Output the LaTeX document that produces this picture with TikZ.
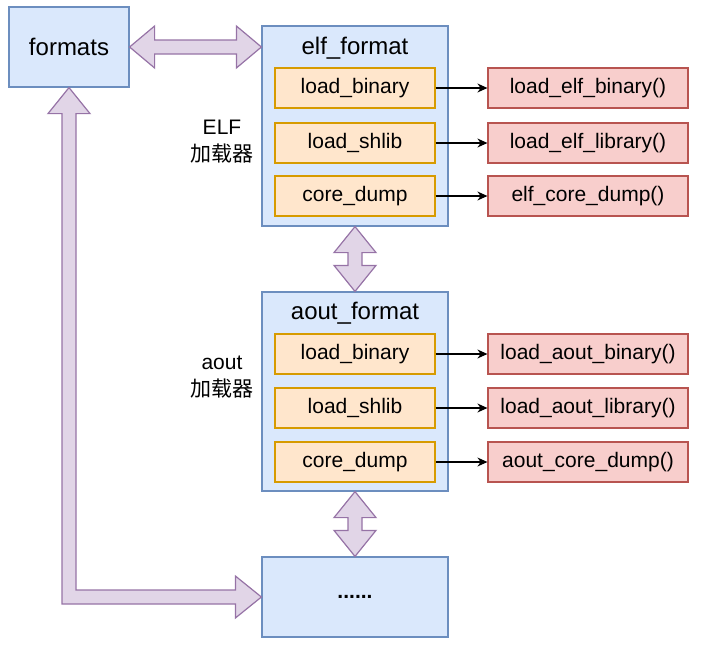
\documentclass[tikz,border=0pt]{standalone}
\usepackage{fontspec}
\setmainfont{Liberation Sans}
\newfontfamily\cjk{Noto Sans CJK SC}
\usetikzlibrary{arrows.meta,calc}

\definecolor{bluefill}{HTML}{DAE8FC}
\definecolor{blueline}{HTML}{6C8EBF}
\definecolor{orangefill}{HTML}{FFE6CC}
\definecolor{orangeline}{HTML}{D79B00}
\definecolor{redfill}{HTML}{F8CECC}
\definecolor{redline}{HTML}{B85450}
\definecolor{purplefill}{HTML}{E1D5E7}
\definecolor{purpleline}{HTML}{9673A6}

\begin{document}
\begin{tikzpicture}[x=1pt,y=-1pt,
	box/.style={draw=blueline,fill=bluefill,line width=1.2pt,inner sep=0pt,minimum width=186pt},
	op/.style={draw=orangeline,fill=orangefill,line width=1.2pt,inner sep=0pt,minimum width=160pt,minimum height=40pt,font=\fontsize{21}{25}\selectfont},
	fn/.style={draw=redline,fill=redfill,line width=1.2pt,inner sep=0pt,minimum width=200pt,minimum height=40pt,font=\fontsize{21}{25}\selectfont},
	head/.style={font=\fontsize{24}{28}\selectfont},
	side/.style={align=center,font=\fontsize{21}{27}\selectfont},
	fat/.style={draw=purpleline,fill=purplefill,line width=1.2pt,line join=miter},
	call/.style={-{Stealth[length=10pt,width=9pt]},line width=1.2pt}]
	\useasboundingbox (0,0) rectangle (702,649);

	\node[box,minimum width=120pt,minimum height=80pt,head] (formats) at (69,47) {formats};

	% elf loader
	\node[box,minimum height=200pt] (elf) at (355,126) {};
	\node[head] (elfname) at (355,48) {elf\_format};
	\node[op] (elfbin) at (355,88) {load\_binary};
	\node[op] (elflib) at (355,143) {load\_shlib};
	\node[op] (elfcore) at (355,196) {core\_dump};
	\node[fn] (elfbinfn) at (588,88) {load\_elf\_binary()};
	\node[fn] (elflibfn) at (588,143) {load\_elf\_library()};
	\node[fn] (elfcorefn) at (588,196) {elf\_core\_dump()};
	\node[side] (elflabel) at (222,142) {ELF\\{\cjk 加载器}};

	% aout loader
	\node[box,minimum height=199pt] (aout) at (355,391.5) {};
	\node[head] (aoutname) at (355,313) {aout\_format};
	\node[op] (aoutbin) at (355,354) {load\_binary};
	\node[op] (aoutlib) at (355,408) {load\_shlib};
	\node[op] (aoutcore) at (355,462) {core\_dump};
	\node[fn] (aoutbinfn) at (588,354) {load\_aout\_binary()};
	\node[fn] (aoutlibfn) at (588,408) {load\_aout\_library()};
	\node[fn] (aoutcorefn) at (588,462) {aout\_core\_dump()};
	\node[side] (aoutlabel) at (222,377) {aout\\{\cjk 加载器}};

	\node[box,minimum height=80pt,font=\fontsize{21}{25}\selectfont\bfseries] (more) at (355,597) {......};

	\draw[call] (elfbin) -- (elfbinfn);
	\draw[call] (elflib) -- (elflibfn);
	\draw[call] (elfcore) -- (elfcorefn);
	\draw[call] (aoutbin) -- (aoutbinfn);
	\draw[call] (aoutlib) -- (aoutlibfn);
	\draw[call] (aoutcore) -- (aoutcorefn);

	% wide arrows
	\coordinate (elfin) at (formats.east -| elf.west);
	\coordinate (bend) at (formats.south |- more.west);
	\draw[fat] (formats.east) -- ++(25,-21) -- ++(0,14) -- ($(elfin)+(-25,-7)$) -- ++(0,-14) -- (elfin)
		-- ++(-25,21) -- ++(0,-14) -- ($(formats.east)+(25,7)$) -- ++(0,14) -- cycle;
	\draw[fat] (elf.south) -- ++(21,26) -- ++(-14,0) -- ($(aout.north)+(7,-26)$) -- ++(14,0) -- (aout.north)
		-- ++(-21,-26) -- ++(14,0) -- ($(elf.south)+(-7,26)$) -- ++(-14,0) -- cycle;
	\draw[fat] (aout.south) -- ++(21,26) -- ++(-14,0) -- ($(more.north)+(7,-26)$) -- ++(14,0) -- (more.north)
		-- ++(-21,-26) -- ++(14,0) -- ($(aout.south)+(-7,26)$) -- ++(-14,0) -- cycle;
	\draw[fat] (formats.south) -- ++(21,26) -- ++(-14,0) -- ($(bend)+(7,-7)$) -- ($(more.west)+(-26,-7)$)
		-- ++(0,-14) -- (more.west) -- ++(-26,21) -- ++(0,-14) -- ($(bend)+(-7,7)$)
		-- ($(formats.south)+(-7,26)$) -- ++(-14,0) -- cycle;
\end{tikzpicture}
\end{document}
